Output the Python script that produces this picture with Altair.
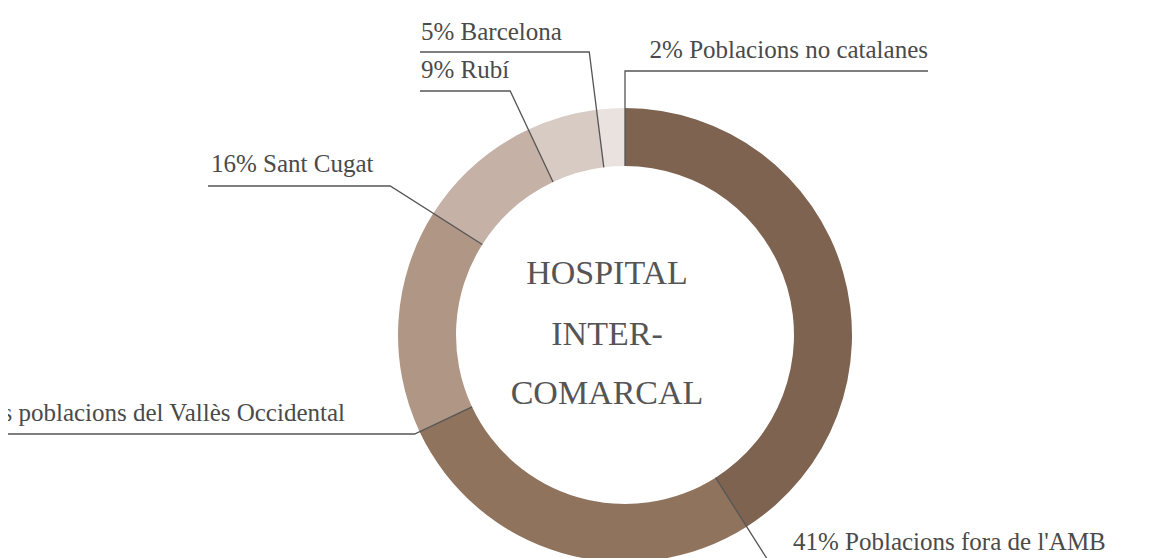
import math
import altair as alt
import pandas as pd

# ---------------- data ----------------
categories = [
    "Poblacions fora de l'AMB",
    "Altres poblacions del Vallès Occidental",
    "Sant Cugat",
    "Rubí",
    "Barcelona",
    "Poblacions no catalanes",
]
values = [41, 27, 16, 9, 5, 2]
colors = ["#7e6350", "#8f735d", "#b09685", "#c5b1a5", "#d8cbc4", "#e9e2de"]
center_lines = ["HOSPITAL", "INTER-", "COMARCAL"]

# ---------------- layout (page pixels) ----------------
W, H = 1136, 550
CX, CY = 625, 335          # ring centre on the page
R_IN, R_OUT = 169, 227
label_line_y = [563, 434, 186, 91, 52, 71]
label_line_end = [1120, -40, 208, 420, 420, 928]
label_text_x = [793, 345, 211, 421, 421, 928]
label_text_y = [550, 421, 172, 78, 40, 58]
label_align = ["left", "right", "left", "left", "left", "right"]
center_x = 607
center_y = [284, 345, 404]

FONT = "Liberation Serif"
TEXT_COLOR = "#4a4a4a"
LINE_COLOR = "#555555"

# chart coordinates: plot origin at page (8, 8); data units = pixels relative to ring centre
ox, oy = CX - 8, CY - 8
xscale = alt.Scale(domain=[-ox, W - ox], nice=False, zero=False)
yscale = alt.Scale(domain=[-oy, H - oy], nice=False, zero=False, reverse=True)

slices = pd.DataFrame({
    "category": categories,
    "value": values,
    "idx": list(range(len(values))),
})

arc = alt.Chart(slices).mark_arc(innerRadius=R_IN, outerRadius=R_OUT, strokeWidth=0).encode(
    theta=alt.Theta("value:Q", stack=True),
    order=alt.Order("idx:Q"),
    color=alt.Color("category:N", scale=alt.Scale(domain=categories, range=colors), legend=None),
    x=alt.value(ox),
    y=alt.value(oy),
)

# leader lines derived from slice boundaries
total = sum(values)
rows = []
cum = 0
for i, v in enumerate(values):
    cum += v
    th = 2 * math.pi * cum / total
    s, c = math.sin(th), math.cos(th)
    ly = label_line_y[i] - CY
    t = ly / (-c)
    pts = [
        (R_IN * s, -R_IN * c),
        (t * s, ly),
        (label_line_end[i] - CX, ly),
    ]
    for k, (px, py) in enumerate(pts):
        rows.append({"label": categories[i], "seq": k, "x": px, "y": py})
lines_df = pd.DataFrame(rows)

leaders = alt.Chart(lines_df).mark_line(color=LINE_COLOR, strokeWidth=1.3).encode(
    x=alt.X("x:Q", scale=xscale, axis=None),
    y=alt.Y("y:Q", scale=yscale, axis=None),
    detail="label:N",
    order="seq:Q",
)

labels_df = pd.DataFrame({
    "text": [f"{v}% {c}" for v, c in zip(values, categories)],
    "x": [x - CX for x in label_text_x],
    "y": [y - CY for y in label_text_y],
    "align": label_align,
})


def text_layer(align):
    return alt.Chart(labels_df[labels_df["align"] == align]).mark_text(
        align=align, baseline="alphabetic", font=FONT, fontSize=25, color=TEXT_COLOR
    ).encode(
        x=alt.X("x:Q", scale=xscale, axis=None),
        y=alt.Y("y:Q", scale=yscale, axis=None),
        text="text:N",
    )


center_df = pd.DataFrame({
    "text": center_lines,
    "x": [center_x - CX] * len(center_lines),
    "y": [y - CY for y in center_y],
})
center = alt.Chart(center_df).mark_text(
    align="center", baseline="alphabetic", font=FONT, fontSize=34, color="#555555"
).encode(
    x=alt.X("x:Q", scale=xscale, axis=None),
    y=alt.Y("y:Q", scale=yscale, axis=None),
    text="text:N",
)

chart = alt.layer(arc, leaders, text_layer("left"), text_layer("right"), center).properties(
    width=W, height=H, padding=0, autosize=alt.AutoSizeParams(type="none"), background="white"
).configure_view(strokeWidth=0, stroke=None)

chart.save("out.html", embed_options={"renderer": "svg", "actions": False})
